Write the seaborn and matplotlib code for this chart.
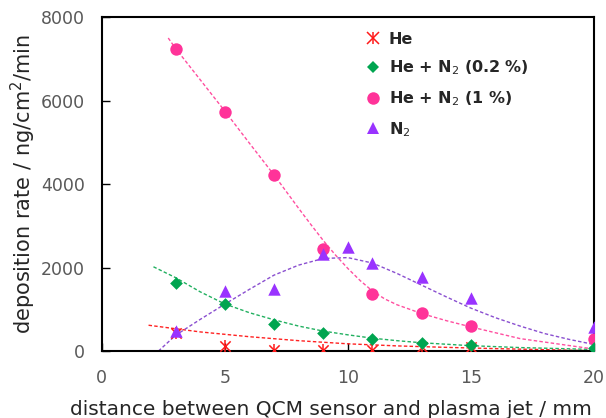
import numpy as np
import pandas as pd
import matplotlib
matplotlib.use("Agg")
import matplotlib.pyplot as plt
import seaborn as sns
from matplotlib.lines import Line2D

sns.set_theme(style="white")
plt.rcParams['font.family'] = ['DejaVu Sans']
plt.rcParams['mathtext.fontset'] = 'dejavusans'

he_x = [3, 5, 7, 9, 11, 13, 15]
he_y = [430, 120, 30, 30, 30, 90, 90]
n02_x = [3, 5, 7, 9, 11, 13, 15, 20]
n02_y = [1620, 1120, 660, 430, 280, 190, 150, 80]
n1_x = [3, 5, 7, 9, 11, 13, 15, 20]
n1_y = [7230, 5730, 4220, 2440, 1380, 920, 610, 300]
n2_x = [3, 5, 7, 9, 10, 11, 13, 15, 20]
n2_y = [480, 1450, 1480, 2320, 2500, 2100, 1780, 1270, 570]

# dashed trend curves
he_fit_x = [1.9, 4, 6, 8, 10, 12, 14, 16, 18, 20]
he_fit_y = [620, 460, 345, 250, 175, 125, 90, 60, 35, 10]
n02_fit_x = [2.1, 3, 4, 5, 6, 7, 8, 9, 10, 11, 12, 13, 15, 17, 20]
n02_fit_y = [2020, 1760, 1420, 1130, 920, 750, 600, 480, 390, 310, 250, 200, 130, 85, 40]
n1_fit_x = [2.7, 3, 4, 5, 6, 7, 8, 8.5, 9, 9.5, 10, 10.5, 11, 11.5, 12, 13, 14, 15, 17, 20]
n1_fit_y = [7500, 7250, 6500, 5750, 4980, 4220, 3420, 3030, 2650, 2300, 1980, 1690, 1440, 1250, 1110, 900, 730, 580, 300, 50]
n2_fit_x = [2.3, 3, 4, 5, 6, 7, 8, 9, 10, 11, 12, 13, 14, 15, 16, 17, 18, 19, 20]
n2_fit_y = [0, 380, 760, 1125, 1480, 1820, 2060, 2220, 2240, 2110, 1860, 1580, 1300, 1030, 800, 600, 420, 280, 160]

labels = ["He", "He + N$_2$ (0.2 %)", "He + N$_2$ (1 %)", "N$_2$"]
pt_colors = ["#ff1a1a", "#00a550", "#ff3399", "#9933ff"]
ln_colors = ["#ff2222", "#22b060", "#ff4fa0", "#8a4fd0"]

fig = plt.figure(figsize=(6.06, 4.18), dpi=100)
ax = fig.add_axes([0.168, 0.160, 0.812, 0.799])

curves = [(he_fit_x, he_fit_y), (n02_fit_x, n02_fit_y), (n1_fit_x, n1_fit_y), (n2_fit_x, n2_fit_y)]
for (xs, ys), c in zip(curves, ln_colors):
    sns.lineplot(x=xs, y=ys, ax=ax, color=c, lw=1.0, linestyle=(0, (2.5, 1.6)))

# He: star made of x + vertical bar
sns.scatterplot(x=he_x, y=he_y, ax=ax, color=pt_colors[0], marker="x", s=55, linewidth=1.1, zorder=5)
sns.scatterplot(x=he_x, y=he_y, ax=ax, color=pt_colors[0], marker="|", s=70, linewidth=1.1, zorder=5)
sns.scatterplot(x=n02_x, y=n02_y, ax=ax, color=pt_colors[1], marker="D", s=42, linewidth=0, zorder=6)
sns.scatterplot(x=n1_x, y=n1_y, ax=ax, color=pt_colors[2], marker="o", s=80, linewidth=0, zorder=5)
sns.scatterplot(x=n2_x, y=n2_y, ax=ax, color=pt_colors[3], marker="^", s=80, linewidth=0, zorder=5)

ax.set_xlim(0, 20)
ax.set_ylim(0, 8000)
ax.set_xticks([0, 5, 10, 15, 20])
ax.set_yticks([0, 2000, 4000, 6000, 8000])
for sp in ax.spines.values():
    sp.set_color("black")
    sp.set_linewidth(1.5)
ax.tick_params(direction="in", length=6, width=1, colors="black",
               labelcolor="#595959", labelsize=12.5, bottom=True, left=True)
ax.tick_params(axis="x", pad=13)
ax.tick_params(axis="y", pad=12)
ax.set_xlabel("distance between QCM sensor and plasma jet / mm", fontsize=14.5)
ax.xaxis.set_label_coords(0.465, -0.145)
ax.set_ylabel("deposition rate / ng/cm$^2$/min", fontsize=15, labelpad=2)

handles = [
    (Line2D([], [], color=pt_colors[0], marker="x", linestyle="none", markersize=8, markeredgewidth=1.1),
     Line2D([], [], color=pt_colors[0], marker="|", linestyle="none", markersize=9, markeredgewidth=1.1)),
    Line2D([], [], color=pt_colors[1], marker="D", linestyle="none", markersize=6, markeredgewidth=0),
    Line2D([], [], color=pt_colors[2], marker="o", linestyle="none", markersize=9, markeredgewidth=0),
    Line2D([], [], color=pt_colors[3], marker="^", linestyle="none", markersize=9, markeredgewidth=0),
]
leg = ax.legend(handles, labels, loc="upper left", bbox_to_anchor=(0.505, 1.0),
                frameon=False, handletextpad=0.5, labelspacing=0.75, handlelength=1.0,
                prop={"weight": "bold", "size": 11.5})

fig.savefig("out.png", dpi=100)
